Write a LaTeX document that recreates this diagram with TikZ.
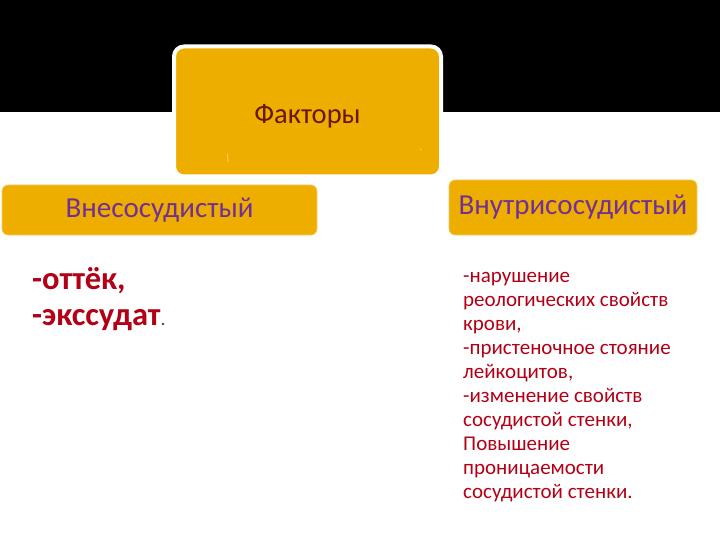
\documentclass[tikz,border=0pt]{standalone}
\usepackage{fontspec}
\setmainfont{Carlito}
\usetikzlibrary{positioning}
\usepackage{xcolor}
\definecolor{boxorange}{RGB}{238,174,0}
\definecolor{headred}{RGB}{105,22,12}
\definecolor{headpurple}{RGB}{112,48,150}
\definecolor{bodyred}{RGB}{178,0,22}
\definecolor{marklight}{RGB}{252,226,150}

\begin{document}
\begin{tikzpicture}[x=1pt,y=-1pt]
\tikzstyle{factor} = [
	shape=rectangle,
	fill=boxorange,
	rounded corners=6pt,
	inner sep=0pt
];
\tikzstyle{bodytext} = [
	draw=none,
	text=bodyred,
	align=left,
	inner sep=0pt,
	anchor=north west
];

\useasboundingbox (0,0) rectangle (720,540);
\fill[white] (0,0) rectangle (720,540);
\fill[black] (0,0) rectangle (720,112);

\node[factor,draw=white,line width=4pt,rounded corners=10pt,minimum width=267pt,minimum height=130pt,
	label={[text=headred,font=\fontsize{28.5}{32}\selectfont,yshift=-5pt]center:Факторы}](FACTORS) at (307.5,111.5) {};
\node[text=marklight,font=\fontsize{10}{10}\selectfont,rotate=-20](MarkA) at (228,158) {\textbackslash};
\node[text=marklight,font=\fontsize{10}{10}\selectfont](MarkB) at (421,150) {.};

\node[factor,draw=boxorange!60,line width=0.6pt,minimum width=315pt,minimum height=50pt,
	font=\fontsize{29}{32}\selectfont,text=headpurple](OUTER) at (159.5,210) {Внесосудистый};
\node[factor,draw=boxorange!60,line width=0.6pt,minimum width=248pt,minimum height=55pt,
	font=\fontsize{29}{32}\selectfont,text=headpurple](INNER) at (573,207.5) {Внутрисосудистый};

\node[bodytext,font=\fontsize{32.5}{36}\selectfont\bfseries](OuterList) at (32,267) {-оттёк,\\-экссудат{\mdseries\fontsize{20}{36}\selectfont\color{black!70}.}};

\node[bodytext,font=\fontsize{21}{24}\selectfont](InnerList) at (463,272) {-нарушение\\реологических свойств\\крови,\\-пристеночное стояние\\лейкоцитов,\\-изменение свойств\\сосудистой стенки,\\Повышение\\проницаемости\\сосудистой стенки.};

\end{tikzpicture}
\end{document}
